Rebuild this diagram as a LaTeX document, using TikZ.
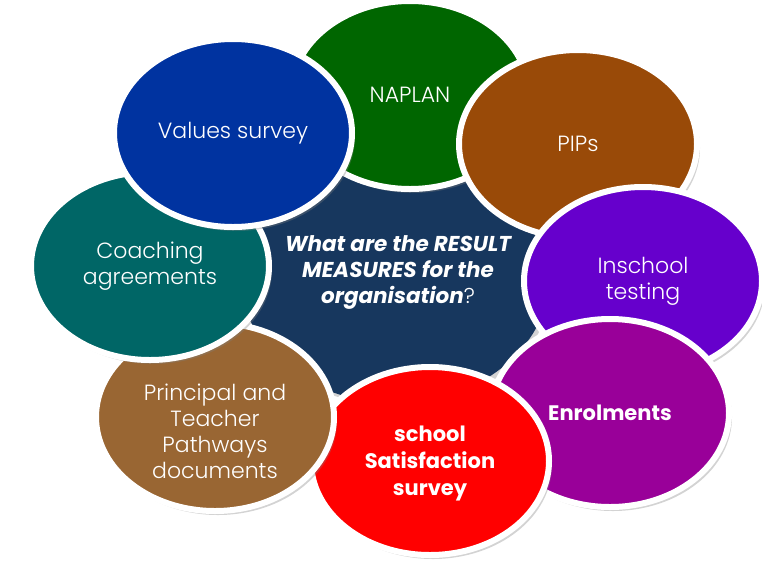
\documentclass[tikz,border=0pt]{standalone}
\usepackage{xcolor}
\usepackage{fontspec}
\setmainfont{Poppins}
\newfontfamily\lightfont{Poppins Light}
\usetikzlibrary{shapes.geometric, shadows}
\definecolor{hubnavy}{HTML}{17375E}
\definecolor{valblue}{HTML}{0033A0}
\definecolor{naplangreen}{HTML}{006600}
\definecolor{pipbrown}{HTML}{994A08}
\definecolor{testviolet}{HTML}{6600CC}
\definecolor{enrolpurple}{HTML}{990099}
\definecolor{satred}{HTML}{FF0000}
\definecolor{pathbrown}{HTML}{996633}
\definecolor{coachteal}{HTML}{006666}
\tikzstyle{bubble} = [ellipse, draw=white, line width=6pt, text=white, align=center, inner sep=0pt, minimum width=238pt, minimum height=188pt, font=\lightfont\fontsize{22}{26}\selectfont, drop shadow={opacity=0.35, shadow xshift=3pt, shadow yshift=-4pt}]
\tikzstyle{boldbubble} = [bubble, font=\fontsize{21}{27}\selectfont\bfseries]
\tikzstyle{hub} = [ellipse, fill=hubnavy, inner sep=0pt, minimum width=310pt, minimum height=256pt, drop shadow={opacity=0.35, shadow xshift=3pt, shadow yshift=-4pt}]

\begin{document}
\begin{tikzpicture}[x=1pt, y=-1pt]
    \useasboundingbox (0,0) rectangle (762,563);
    % Centre
    \node[hub] (question) at (395,275) {};
    \node[text=white, align=center, font=\fontsize{21.5}{26}\selectfont\bfseries\itshape] (questiontext) at (398,272) {What are the RESULT\\MEASURES for the\\organisation{\lightfont\mdseries\upshape ?}};
    % Measures, back to front
    \node[bubble, fill=naplangreen] (naplan) at (410,95) {NAPLAN};
    \node[bubble, fill=pipbrown] (pips) at (578,144) {PIPs};
    \node[bubble, fill=testviolet] (testing) at (643,281) {Inschool\\testing};
    \node[boldbubble, fill=enrolpurple] (enrol) at (610,413) {Enrolments};
    \node[boldbubble, fill=satred] (satisfaction) at (430,461) {};
    \node[text=white, align=center, font=\fontsize{21}{27}\selectfont\bfseries] (satisfactiontext) at ([yshift=-3pt]satisfaction.center) {school\\Satisfaction\\survey};
    \node[bubble, fill=pathbrown] (pathways) at (215,417) {};
    \node[text=white, align=center, font=\lightfont\fontsize{22}{26}\selectfont] (pathwaystext) at ([yshift=-14pt]pathways.center) {Principal and\\Teacher\\Pathways\\documents};
    \node[bubble, fill=coachteal] (coaching) at (150,266) {Coaching\\agreements};
    \node[bubble, fill=valblue] (values) at (233,133) {Values survey};
\end{tikzpicture}
\end{document}
